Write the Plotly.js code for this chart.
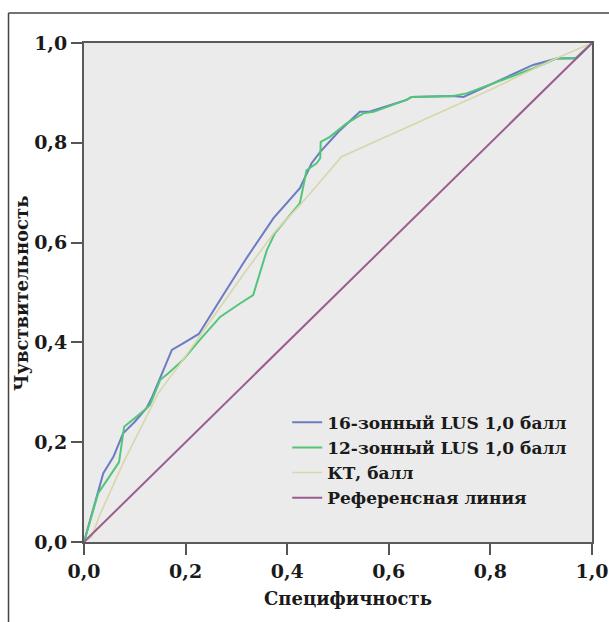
<!DOCTYPE html>
<html>
<head>
<meta charset="utf-8">
<script src="https://cdn.plot.ly/plotly-3.0.1.min.js"></script>
<style>html,body{margin:0;padding:0;background:#fff;}#chart{width:609px;height:622px;}</style>
</head>
<body>
<div id="chart"></div>
<script>
// Series names
const seriesNames = ["16-зонный LUS 1,0 балл", "12-зонный LUS 1,0 балл", "КТ, балл", "Референсная линия"];
const xTitle = "Специфичность";
const yTitle = "Чувствительность";

// 16-zone LUS (1 - specificity, sensitivity)
const lus16X = [0, 0.028, 0.038, 0.058, 0.077, 0.100, 0.123, 0.133, 0.150, 0.173, 0.195, 0.226, 0.274, 0.320, 0.373, 0.425, 0.448, 0.465, 0.501, 0.543, 0.560, 0.635, 0.645, 0.727, 0.747, 0.884, 0.930, 0.970, 1];
const lus16Y = [0, 0.098, 0.138, 0.171, 0.218, 0.241, 0.268, 0.288, 0.328, 0.385, 0.398, 0.417, 0.495, 0.569, 0.649, 0.709, 0.759, 0.782, 0.822, 0.862, 0.862, 0.886, 0.892, 0.894, 0.892, 0.956, 0.969, 0.970, 1];

// 12-zone LUS
const lus12X = [0, 0.028, 0.048, 0.064, 0.069, 0.079, 0.100, 0.120, 0.130, 0.150, 0.166, 0.195, 0.228, 0.268, 0.307, 0.333, 0.360, 0.376, 0.425, 0.438, 0.458, 0.465, 0.466, 0.484, 0.517, 0.550, 0.570, 0.635, 0.645, 0.727, 0.753, 0.884, 0.930, 0.967, 1];
const lus12Y = [0, 0.098, 0.128, 0.154, 0.160, 0.231, 0.248, 0.265, 0.275, 0.325, 0.338, 0.365, 0.405, 0.451, 0.478, 0.495, 0.585, 0.619, 0.679, 0.745, 0.759, 0.769, 0.802, 0.812, 0.839, 0.859, 0.862, 0.886, 0.892, 0.894, 0.899, 0.949, 0.969, 0.969, 1];

// CT score
const ctX = [0, 0.015, 0.031, 0.077, 0.146, 0.195, 0.255, 0.320, 0.376, 0.425, 0.507, 0.661, 0.799, 0.920, 1];
const ctY = [0, 0.010, 0.054, 0.158, 0.298, 0.365, 0.452, 0.545, 0.622, 0.675, 0.772, 0.842, 0.906, 0.965, 1];

// Reference line
const refX = [0, 1];
const refY = [0, 1];

// Tick values
const tickVals = [0, 0.2, 0.4, 0.6, 0.8, 1.0];

const FONT = "DejaVu Serif, Liberation Serif, serif";
const TXT = "#1a1a1a";

const traces = [
  {x: lus16X, y: lus16Y, name: seriesNames[0], mode: "lines", line: {color: "#6c7bc2", width: 2}},
  {x: lus12X, y: lus12Y, name: seriesNames[1], mode: "lines", line: {color: "#52c678", width: 2}},
  {x: ctX, y: ctY, name: seriesNames[2], mode: "lines", line: {color: "#d8d6aa", width: 1.6}},
  {x: refX, y: refY, name: seriesNames[3], mode: "lines", line: {color: "#9a5e8e", width: 2}}
];

const axisCommon = {
  range: [0, 1],
  tickvals: tickVals,
  tickformat: ".1f",
  ticks: "outside",
  ticklen: 11,
  tickwidth: 2,
  tickcolor: "#555",
  showline: true,
  linecolor: "#5a5a5a",
  linewidth: 2,
  mirror: true,
  showgrid: false,
  zeroline: false,
  tickfont: {family: FONT, size: 19, color: TXT, weight: "bold"},
  fixedrange: true
};

const layout = {
  width: 609,
  height: 622,
  margin: {l: 84, r: 17, t: 43, b: 80},
  paper_bgcolor: "#ffffff",
  plot_bgcolor: "#ebebeb",
  separators: ", ",
  font: {family: FONT, color: TXT},
  xaxis: Object.assign({}, axisCommon, {ticklabelstandoff: 0}),
  yaxis: Object.assign({}, axisCommon, {ticklabelstandoff: 0}),
  showlegend: true,
  legend: {
    x: 0.40, y: 0.275, xanchor: "left", yanchor: "top",
    bgcolor: "rgba(0,0,0,0)",
    font: {family: FONT, size: 17, color: TXT, weight: "bold"},
    itemwidth: 30,
    tracegroupgap: 0
  },
  annotations: [
    {text: xTitle, xref: "paper", yref: "paper", x: 0.52, y: -0.113, xanchor: "center", yanchor: "middle",
     showarrow: false, font: {family: FONT, size: 18, color: TXT, weight: "bold"}},
    {text: yTitle, xref: "paper", yref: "paper", x: -0.122, y: 0.497, xanchor: "center", yanchor: "middle",
     textangle: -90, showarrow: false, font: {family: FONT, size: 18, color: TXT, weight: "bold"}}
  ],
  shapes: [
    {type: "line", xref: "paper", yref: "paper", x0: -0.1486, x1: -0.1486, y0: 1.0601, y1: -0.17, line: {color: "#444", width: 1.5}},
    {type: "line", xref: "paper", yref: "paper", x0: -0.1486, x1: 1.04, y0: 1.0601, y1: 1.0601, line: {color: "#444", width: 1.5}}
  ]
};

Plotly.newPlot("chart", traces, layout, {displayModeBar: false, staticPlot: true});
</script>
</body>
</html>
